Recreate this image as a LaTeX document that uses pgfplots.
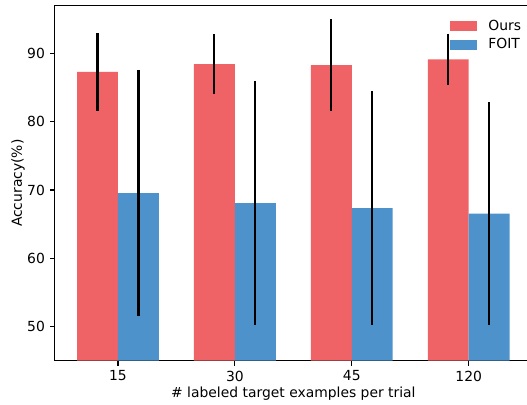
\documentclass[border=0pt]{standalone}
\usepackage{fontspec}
\setmainfont{DejaVu Sans}
\usepackage{pgfplots}
\pgfplotsset{compat=1.18}
\definecolor{oursred}{RGB}{239,99,102}
\definecolor{foitblue}{RGB}{78,146,204}
\begin{document}
\begin{tikzpicture}
\begin{axis}[
  name=ax,
  scale only axis,
  width=343.4pt, height=255.6pt,
  xmin=-0.54, xmax=3.54,
  ymin=45, ymax=97,
  xtick={0,1,2,3},
  xticklabels={15,30,45,120},
  ytick={50,60,70,80,90},
  tick align=outside,
  xtick pos=bottom, ytick pos=left,
  major tick length=3.5pt,
  every tick/.style={black, line width=0.8pt},
  axis line style={black, line width=0.8pt},
  /pgf/number format/assume math mode=true,
  tick label style={font=\fontsize{10}{12}\selectfont, inner sep=0pt},
  xticklabel style={anchor=north, yshift=-3.5pt},
  yticklabel style={anchor=east, xshift=-3.5pt},
  xlabel={\# labeled target examples per trial},
  ylabel={Accuracy(\%)},
  every axis x label/.style={at={(axis description cs:0.5,0)}, anchor=base, yshift=-26.6pt, inner sep=0pt},
  every axis y label/.style={at={(axis description cs:-0.0626,0.5)}, rotate=90, anchor=south, inner sep=0pt},
  legend style={draw=none, fill=none, at={(axis description cs:0.8285,0.9686)}, anchor=north west,
    inner sep=0pt, outer sep=0pt, row sep=0pt, column sep=8.35pt,
    nodes={inner sep=0pt, minimum height=13.4pt, anchor=west}},
  legend cell align=left,
  legend image code/.code={\fill[#1] (0pt,-3.6pt) rectangle (19.2pt,3.6pt);},
]
\addplot[ybar, bar width=0.35, bar shift=0, fill=oursred, draw=none,
  error bars/.cd, y dir=both, y explicit, error mark=none,
  error bar style={line width=1.5pt, black}]
  coordinates {(-0.175,87.3) +- (0,5.7) (0.825,88.45) +- (0,4.35) (1.825,88.3) +- (0,6.7) (2.825,89.15) +- (0,3.75)};
\addlegendentry{Ours}
\addplot[ybar, bar width=0.35, bar shift=0, fill=foitblue, draw=none,
  error bars/.cd, y dir=both, y explicit, error mark=none,
  error bar style={line width=1.5pt, black}]
  coordinates {(0.175,69.55) +- (0,18.05) (1.175,68.1) +- (0,17.9) (2.175,67.35) +- (0,17.15) (3.175,66.55) +- (0,16.35)};
\addlegendentry{FOIT}
\end{axis}
\pgfresetboundingbox
\path[use as bounding box] ([xshift=-39.5pt,yshift=-31.2pt]ax.south west) rectangle ([xshift=339.9pt,yshift=4.1pt]ax.north west);
\end{tikzpicture}
\end{document}
